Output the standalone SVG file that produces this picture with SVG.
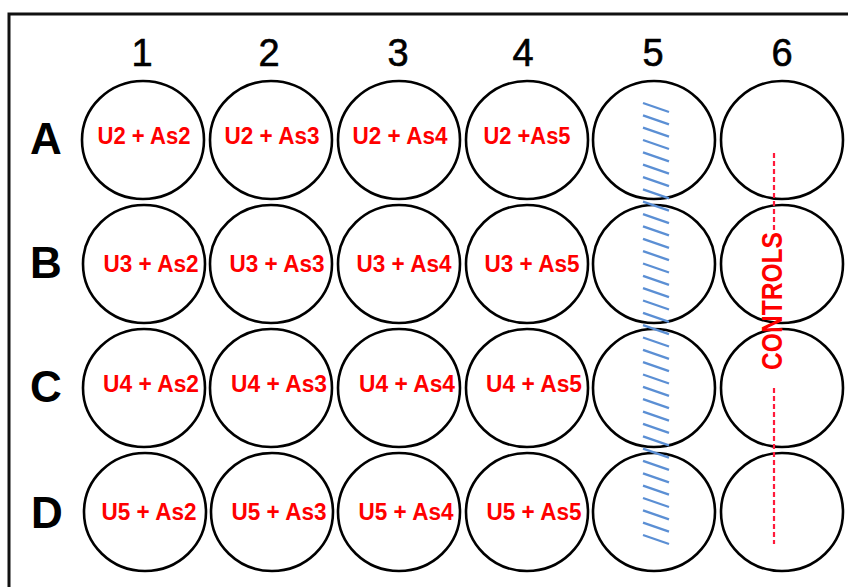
<svg xmlns="http://www.w3.org/2000/svg" width="848" height="587" viewBox="0 0 848 587">
<style>
.frame{fill:none;stroke:#111;stroke-width:3}
.well{fill:#fff;stroke:#000;stroke-width:2.6}
.col{font-family:"Liberation Sans",Arial,sans-serif;font-size:38px;fill:#000;text-anchor:middle;stroke:#000;stroke-width:0.6}
.row{font-family:"Liberation Sans",Arial,sans-serif;font-size:44px;font-weight:bold;fill:#000;text-anchor:middle}
.lbl{font-family:"Liberation Sans",Arial,sans-serif;font-size:23.5px;font-weight:bold;fill:#ff0000;text-anchor:middle}
.hatch{stroke:#5b8fd4;stroke-width:2.3}
.dash{stroke:#ff1a3a;stroke-width:2.2;stroke-dasharray:5 3;fill:none}
.ctrl{font-family:"Liberation Sans",Arial,sans-serif;font-size:29px;font-weight:bold;fill:#ff0000;text-anchor:middle}
</style>
<rect width="848" height="587" fill="#fff"/>
<path class="frame" d="M9,600 V14 H860"/>
<g id="col-labels">
<text class="col" x="142" y="66">1</text>
<text class="col" x="269" y="66">2</text>
<text class="col" x="398" y="66">3</text>
<text class="col" x="523" y="66">4</text>
<text class="col" x="653" y="66">5</text>
<text class="col" x="782" y="66">6</text>
</g>
<g id="row-labels">
<text class="row" x="46" y="154">A</text>
<text class="row" x="46" y="278">B</text>
<text class="row" x="46" y="402">C</text>
<text class="row" x="47" y="528">D</text>
</g>
<g id="row-A">
<g id="A1"><ellipse class="well" cx="143" cy="140" rx="61" ry="59"/><text class="lbl" x="144" y="144" textLength="93" lengthAdjust="spacingAndGlyphs">U2 + As2</text></g>
<g id="A2"><ellipse class="well" cx="271" cy="140" rx="61" ry="59"/><text class="lbl" x="272" y="144" textLength="95" lengthAdjust="spacingAndGlyphs">U2 + As3</text></g>
<g id="A3"><ellipse class="well" cx="399" cy="140" rx="61" ry="59"/><text class="lbl" x="400" y="144" textLength="95" lengthAdjust="spacingAndGlyphs">U2 + As4</text></g>
<g id="A4"><ellipse class="well" cx="527" cy="140" rx="61" ry="59"/><text class="lbl" x="527" y="144" textLength="87" lengthAdjust="spacingAndGlyphs">U2 +As5</text></g>
<g id="A5"><ellipse class="well" cx="654" cy="140" rx="61" ry="59"/></g>
<g id="A6"><ellipse class="well" cx="782" cy="140" rx="61" ry="59"/></g>
</g>
<g id="row-B">
<g id="B1"><ellipse class="well" cx="144" cy="264" rx="61" ry="59"/><text class="lbl" x="151" y="272" textLength="95" lengthAdjust="spacingAndGlyphs">U3 + As2</text></g>
<g id="B2"><ellipse class="well" cx="271" cy="264" rx="61" ry="59"/><text class="lbl" x="277" y="272" textLength="95" lengthAdjust="spacingAndGlyphs">U3 + As3</text></g>
<g id="B3"><ellipse class="well" cx="399" cy="264" rx="61" ry="59"/><text class="lbl" x="404" y="272" textLength="95" lengthAdjust="spacingAndGlyphs">U3 + As4</text></g>
<g id="B4"><ellipse class="well" cx="527" cy="264" rx="61" ry="59"/><text class="lbl" x="532" y="272" textLength="95" lengthAdjust="spacingAndGlyphs">U3 + As5</text></g>
<g id="B5"><ellipse class="well" cx="654" cy="264" rx="61" ry="59"/></g>
<g id="B6"><ellipse class="well" cx="782" cy="264" rx="61" ry="59"/></g>
</g>
<g id="row-C">
<g id="C1"><ellipse class="well" cx="144" cy="388" rx="61" ry="59"/><text class="lbl" x="151" y="392" textLength="96" lengthAdjust="spacingAndGlyphs">U4 + As2</text></g>
<g id="C2"><ellipse class="well" cx="271" cy="388" rx="61" ry="59"/><text class="lbl" x="279" y="392" textLength="96" lengthAdjust="spacingAndGlyphs">U4 + As3</text></g>
<g id="C3"><ellipse class="well" cx="399" cy="388" rx="61" ry="59"/><text class="lbl" x="407" y="392" textLength="96" lengthAdjust="spacingAndGlyphs">U4 + As4</text></g>
<g id="C4"><ellipse class="well" cx="527" cy="388" rx="61" ry="59"/><text class="lbl" x="534" y="392" textLength="96" lengthAdjust="spacingAndGlyphs">U4 + As5</text></g>
<g id="C5"><ellipse class="well" cx="654" cy="388" rx="61" ry="59"/></g>
<g id="C6"><ellipse class="well" cx="782" cy="388" rx="61" ry="59"/></g>
</g>
<g id="row-D">
<g id="D1"><ellipse class="well" cx="145" cy="512" rx="61" ry="59"/><text class="lbl" x="149" y="520" textLength="95" lengthAdjust="spacingAndGlyphs">U5 + As2</text></g>
<g id="D2"><ellipse class="well" cx="272" cy="512" rx="61" ry="59"/><text class="lbl" x="279" y="520" textLength="95" lengthAdjust="spacingAndGlyphs">U5 + As3</text></g>
<g id="D3"><ellipse class="well" cx="399" cy="512" rx="61" ry="59"/><text class="lbl" x="406" y="520" textLength="95" lengthAdjust="spacingAndGlyphs">U5 + As4</text></g>
<g id="D4"><ellipse class="well" cx="527" cy="512" rx="61" ry="59"/><text class="lbl" x="534" y="520" textLength="95" lengthAdjust="spacingAndGlyphs">U5 + As5</text></g>
<g id="D5"><ellipse class="well" cx="654" cy="512" rx="61" ry="59"/></g>
<g id="D6"><ellipse class="well" cx="782" cy="512" rx="61" ry="59"/></g>
</g>
<defs>
<line id="h" class="hatch" x1="643" y1="0" x2="669" y2="9"/>
</defs>
<g id="hatching">
<use href="#h" y="103"/><use href="#h" y="115.3"/><use href="#h" y="127.7"/><use href="#h" y="140"/>
<use href="#h" y="152.4"/><use href="#h" y="164.7"/><use href="#h" y="177.1"/><use href="#h" y="189.4"/>
<use href="#h" y="201.7"/><use href="#h" y="214.1"/><use href="#h" y="226.4"/><use href="#h" y="238.8"/>
<use href="#h" y="251.1"/><use href="#h" y="263.5"/><use href="#h" y="275.8"/><use href="#h" y="288.1"/>
<use href="#h" y="300.5"/><use href="#h" y="312.8"/><use href="#h" y="325.2"/><use href="#h" y="337.5"/>
<use href="#h" y="349.9"/><use href="#h" y="362.2"/><use href="#h" y="374.5"/><use href="#h" y="386.9"/>
<use href="#h" y="399.2"/><use href="#h" y="411.6"/><use href="#h" y="423.9"/><use href="#h" y="436.3"/>
<use href="#h" y="448.6"/><use href="#h" y="460.9"/><use href="#h" y="473.3"/><use href="#h" y="485.6"/>
<use href="#h" y="498"/><use href="#h" y="510.3"/><use href="#h" y="522.7"/><use href="#h" y="535"/>
</g>
<g id="controls">
<line class="dash" x1="774" y1="153" x2="774" y2="230"/>
<line class="dash" x1="774" y1="388" x2="774" y2="544"/>
<text class="ctrl" transform="translate(782,301) rotate(-90)" x="0" y="0" textLength="138" lengthAdjust="spacingAndGlyphs">CONTROLS</text>
</g>
</svg>
